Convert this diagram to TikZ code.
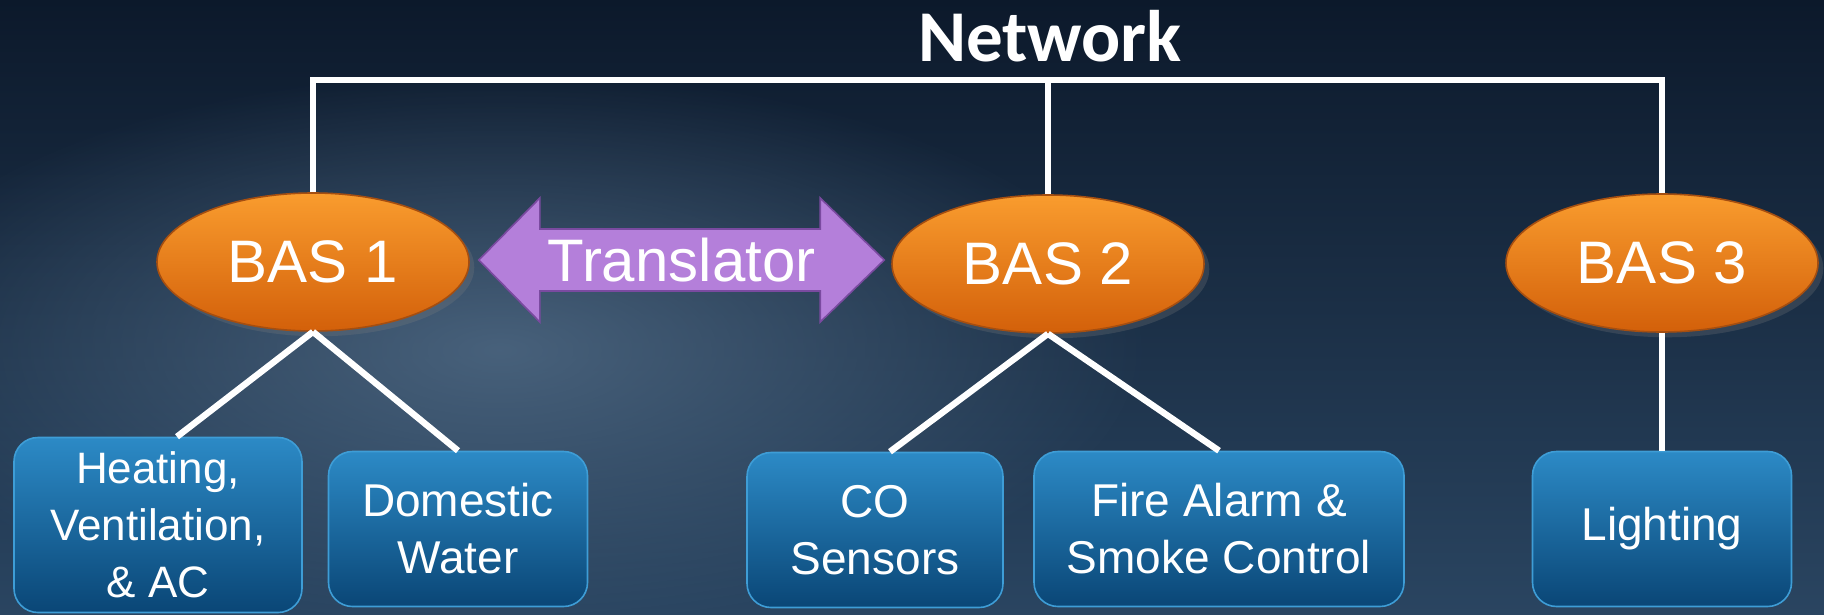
\documentclass[tikz,border=0pt]{standalone}
\usepackage{fontspec}
\setmainfont{Liberation Sans}
\newfontfamily\headfont{Carlito}
\usetikzlibrary{shapes.geometric, calc, fadings, shadows}

\definecolor{bgtop}{HTML}{0C192B}
\definecolor{bgbot}{HTML}{2A4561}
\definecolor{bglite}{HTML}{56718C}
\definecolor{orgtop}{HTML}{F99C2E}
\definecolor{orgbot}{HTML}{D3600A}
\definecolor{orgline}{HTML}{A54E10}
\definecolor{boxtop}{HTML}{2C8AC6}
\definecolor{boxbot}{HTML}{0A4676}
\definecolor{boxline}{HTML}{3E9DD6}
\definecolor{arrfill}{HTML}{B47FDA}
\definecolor{arrline}{HTML}{7A4AA0}

\tikzfading[name=glowfade, inner color=transparent!0, outer color=transparent!100]

\tikzset{
  bas/.style={ellipse, top color=orgtop, bottom color=orgbot, draw=orgline, line width=0.8pt,
    minimum width=156pt, minimum height=69pt, text=white,
    font=\fontsize{30pt}{36pt}\selectfont, drop shadow={opacity=0.25}},
  sys/.style={rectangle, rounded corners=12pt, top color=boxtop, bottom color=boxbot,
    draw=boxline, line width=0.8pt, text=white, align=center, minimum height=77.5pt,
    font=\fontsize{23pt}{28.5pt}\selectfont, inner sep=2pt},
  wire/.style={white, line width=3.2pt},
  arr/.style={fill=arrfill, draw=arrline, line width=0.8pt, line join=miter},
}

\begin{document}
\begin{tikzpicture}[x=0.5pt, y=-0.5pt]
  \useasboundingbox (0,0) rectangle (1824,615);
  % background
  \begin{scope}
    \clip (0,0) rectangle (1824,615);
    \shade[top color=bgtop, bottom color=bgbot] (0,0) rectangle (1824,615);
    \fill[bglite, opacity=0.75, path fading=glowfade] (500,350) ellipse (650 and 280);
  \end{scope}

  % title
  \node[font=\headfont\bfseries\fontsize{36.5pt}{40pt}\selectfont, text=white] (net) at (1050,36) {Network};

  % controllers
  \node[bas] (bas1) at (313,262) {BAS 1};
  \node[bas] (bas2) at (1048,264) {BAS 2};
  \node[bas] (bas3) at (1662,263) {BAS 3};

  % systems
  \node[sys, minimum width=144pt, minimum height=87.5pt, font=\fontsize{22pt}{28.5pt}\selectfont] (hvac) at (158,525) {Heating,\\Ventilation,\\\& AC};
  \node[sys, minimum width=129.5pt] (dw) at (458,529) {Domestic\\Water};
  \node[sys, minimum width=128pt] (co) at (875,530) {CO\\Sensors};
  \node[sys, minimum width=185pt] (fire) at (1219,529) {Fire Alarm \&\\Smoke Control};
  \node[sys, minimum width=129.5pt] (light) at (1662,529) {Lighting};

  % network bus
  \coordinate (bus) at (0,80);
  \draw[wire, line join=miter] (bas1.north) -- (bas1.north |- bus) -- (bas3.north |- bus) -- (bas3.north);
  \draw[wire] (bas2.north) -- (bas2.north |- bus);

  % branches
  \draw[wire] (bas1.south) -- ($(hvac.north)+(19,0)$);
  \draw[wire] (bas1.south) -- (dw.north);
  \draw[wire] (bas2.south) -- ($(co.north)+(15,0)$);
  \draw[wire] (bas2.south) -- (fire.north);
  \draw[wire] (bas3.south) -- (light.north);

  % translator
  \coordinate (tl) at ($(bas1.east)+(9,-2)$);
  \coordinate (tr) at ($(bas2.west)+(-7,-4)$);
  \filldraw[arr] (tl) -- ++(61,-62) -- ++(0,31) -- ($(tr)+(-64,-31)$) -- ++(0,-31) -- (tr)
    -- ++(-64,62) -- ++(0,-31) -- ($(tl)+(61,31)$) -- ++(0,31) -- cycle;
  \node[text=white, font=\fontsize{30pt}{36pt}\selectfont] (trans) at ($(tl)!0.5!(tr)$) {Translator};
\end{tikzpicture}
\end{document}
